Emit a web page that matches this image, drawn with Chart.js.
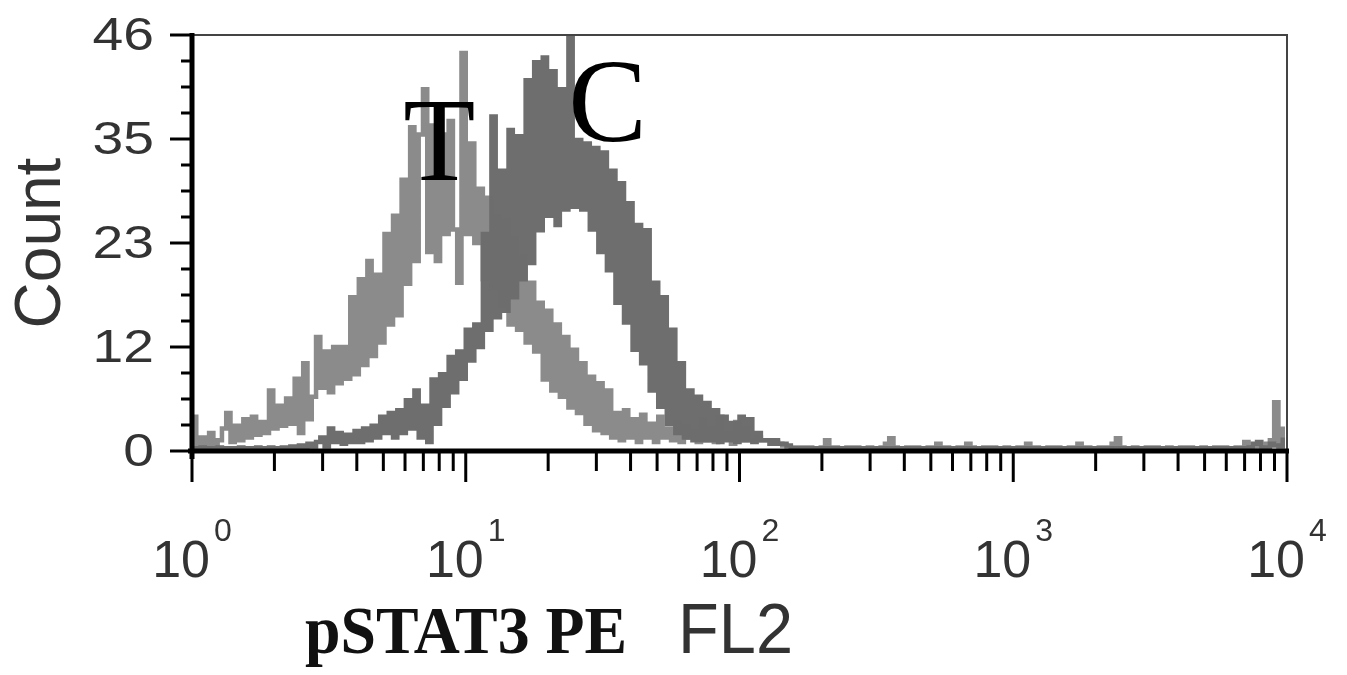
<!DOCTYPE html>
<html>
<head>
<meta charset="utf-8">
<script src="https://cdn.jsdelivr.net/npm/chart.js@4.4.1/dist/chart.umd.min.js"></script>
<style>
  html, body { margin: 0; padding: 0; background: #fff; }
  #wrap { width: 1347px; height: 675px; }
</style>
</head>
<body>
<div id="wrap"><canvas id="histChart" width="1347" height="675"></canvas></div>
<script>
// FL2 histogram: 256 log channels over 4 decades
const CHANNELS_PER_DECADE = 64;

// treated sample, counts per channel
const countT = [
  3.8, 0.5, 1.5, 0.3, 2, 0.8, 1.2, 2.5, 4.2, 1,
  2.8, 1.2, 3.5, 1.5, 3.8, 1.8, 3.2, 2, 6.7, 2.5,
  5, 2.8, 5.8, 3, 8, 2, 9.7, 3.5, 6, 12.6,
  7, 11, 6.5, 11.5, 7.5, 11.5, 8, 17, 8.5, 19,
  9.5, 21, 10.5, 19.5, 12, 24, 14, 26, 15, 30,
  18.5, 35.8, 21, 35, 40, 22, 36, 21, 35, 24,
  36.5, 24.5, 18.6, 44, 24, 34, 23, 29, 19, 28,
  18, 26, 16, 25.5, 14, 23.5, 13.4, 21.5, 12, 18.6,
  11, 16.4, 7.9, 15.5, 6.7, 14, 6, 12.6, 4.8, 11.2,
  4.2, 9.7, 3, 8.2, 2.3, 7.5, 2, 6.7, 1.5, 4.2,
  1.2, 4.5, 1.5, 3.5, 1, 4, 1.5, 3, 1, 3.8,
  1.5, 2.5, 1.2, 3.2, 1, 2.8, 1.5, 2.2, 1, 3.5,
  1.2, 2.5, 1, 3.8, 1.5, 2, 0.8, 3.2, 1.2, 2.5,
  1.2, 1.2, 1.5, 1.2, 1.2, 1.2, 1, 0.8, 0.6, 0.5,
  0.4, 0.3, 0.4, 0.3, 0.4, 0.3, 0.3, 0.4, 1.2, 0.3,
  0.4, 0.3, 0.3, 0.4, 0.3, 0.4, 0.3, 0.3, 0.4, 0.3,
  0.3, 0.4, 0.8, 1.4, 0.4, 0.3, 0.3, 0.4, 0.3, 0.4,
  0.3, 0.3, 0.4, 0.3, 0.8, 0.3, 0.4, 0.3, 0.3, 0.4,
  0.3, 0.8, 0.4, 0.3, 0.3, 0.4, 0.3, 0.4, 0.3, 0.3,
  0.4, 0.3, 0.3, 0.4, 0.3, 0.8, 0.3, 0.4, 0.3, 0.3,
  0.4, 0.3, 0.4, 0.3, 0.3, 0.4, 0.3, 0.8, 0.3, 0.4,
  0.3, 0.3, 0.4, 0.3, 0.4, 0.8, 1.4, 0.4, 0.3, 0.3,
  0.4, 0.3, 0.3, 0.4, 0.3, 0.4, 0.3, 0.3, 0.4, 0.3,
  0.3, 0.4, 0.3, 0.4, 0.3, 0.3, 0.4, 0.3, 0.3, 0.4,
  0.3, 0.4, 0.3, 0.3, 0.4, 0.3, 1, 0.4, 0.3, 0.4,
  0.3, 0.8, 1.2, 5.4, 0.8, 2.7
];

// control sample, counts per channel
const countC = [
  0.3, 0.2, 0.4, 0.3, 0.2, 0.3, 0.4, 0.3, 0.2, 0.3,
  0.3, 0.4, 0.2, 0.3, 0.3, 0.4, 0.3, 0.2, 0.4, 0.3,
  0.3, 0.4, 0.3, 0.5, 0.3, 0.6, 0.4, 0.8, 0.5, 1,
  1.5, 0.5, 2.5, 1, 2, 0.8, 1.8, 1, 2.2, 1,
  2.5, 1.2, 2.8, 1.5, 3.8, 2, 4.2, 1.5, 4.5, 2,
  5.6, 2.5, 6.7, 1.5, 5, 1, 7.9, 3, 8.5, 5,
  10.4, 6.5, 11, 8, 13.4, 10, 14, 11.5, 24, 13.4,
  37, 14.8, 31, 15.5, 35.5, 17, 34.8, 19, 41, 20.8,
  43, 24.4, 43.5, 26, 42, 25, 40, 26.7, 46, 27,
  34.4, 26.7, 34, 24.5, 33.5, 22, 33, 20, 31, 16.4,
  29.6, 14.2, 27.4, 11.2, 25, 9.7, 24.4, 6.7, 18.6, 4.9,
  17, 3, 13.4, 2, 9.7, 1.5, 6.7, 1.2, 6, 1.2,
  5.3, 1.2, 4.5, 1, 3.8, 1.2, 3.1, 1, 3.8, 1.2,
  3.5, 1, 2, 1.2, 1.2, 0.8, 1.2, 0.8, 0.8, 0.6,
  0.3, 0.2, 0.3, 0.2, 0.3, 0.2, 0.3, 0.3, 0.2, 0.3,
  0.2, 0.3, 0.2, 0.3, 0.2, 0.3, 0.3, 0.2, 0.3, 0.2,
  0.3, 0.2, 0.3, 0.3, 0.2, 0.3, 0.2, 0.3, 0.2, 0.3,
  0.2, 0.3, 0.3, 0.2, 0.3, 0.2, 0.3, 0.2, 0.3, 0.3,
  0.2, 0.3, 0.2, 0.3, 0.2, 0.3, 0.2, 0.3, 0.3, 0.2,
  0.3, 0.2, 0.3, 0.2, 0.3, 0.2, 0.3, 0.2, 0.3, 0.3,
  0.2, 0.3, 0.2, 0.3, 0.2, 0.3, 0.2, 0.3, 0.3, 0.2,
  0.3, 0.2, 0.3, 0.3, 0.2, 0.3, 0.2, 0.3, 0.2, 0.3,
  0.2, 0.3, 0.3, 0.2, 0.3, 0.2, 0.3, 0.2, 0.3, 0.3,
  0.2, 0.3, 0.2, 0.3, 0.2, 0.3, 0.2, 0.3, 0.3, 0.2,
  0.3, 0.2, 0.3, 0.3, 0.2, 0.3, 0.2, 0.4, 0.8, 1,
  0.4, 0.3, 0.8, 0.6, 0.5, 1.5
];

const yTickValues = [0, 11.5, 23, 34.5, 46];
const yTickLabels = ['0', '12', '23', '35', '46'];
const xDecades = [0, 1, 2, 3, 4];

// peak markers, placed in data space
const peakLabels = [
  { text: 'T', fl: 8, count: 30 },
  { text: 'C', fl: 33, count: 34.3 }
];

const toPoints = counts => counts.map((n, ch) => ({ x: Math.pow(10, ch / CHANNELS_PER_DECADE), y: n }));

const SANS = '"Liberation Sans", Arial, sans-serif';
const SERIF = '"Liberation Serif", "Times New Roman", serif';

// draws text squeezed or widened to a given width
function fitText(ctx, text, left, baseline, width) {
  const sx = width / ctx.measureText(text).width;
  ctx.save();
  ctx.translate(left, baseline);
  ctx.scale(sx, 1);
  ctx.fillText(text, 0, 0);
  ctx.restore();
}

const flowAxes = {
  id: 'flowAxes',
  afterDatasetsDraw(chart) {
    const { ctx, chartArea: a, scales: { x, y } } = chart;
    ctx.save();

    // thin frame on top and right
    ctx.strokeStyle = '#444';
    ctx.lineWidth = 2;
    ctx.beginPath();
    ctx.moveTo(a.left, a.top);
    ctx.lineTo(a.right, a.top);
    ctx.lineTo(a.right, a.bottom);
    ctx.stroke();

    // heavy axes
    ctx.strokeStyle = '#000';
    ctx.lineWidth = 5;
    ctx.beginPath();
    ctx.moveTo(a.left, a.top - 2);
    ctx.lineTo(a.left, a.bottom + 8);
    ctx.moveTo(a.left - 4, a.bottom);
    ctx.lineTo(a.right + 2, a.bottom);
    ctx.stroke();

    // y ticks: 4 minor steps between labelled ones
    ctx.lineWidth = 3;
    const yMax = yTickValues[yTickValues.length - 1];
    const yStep = yMax / 16;
    for (let i = 0; i <= 16; i++) {
      const py = y.getPixelForValue(i * yStep);
      const len = i % 4 === 0 ? 22 : 11;
      ctx.beginPath();
      ctx.moveTo(a.left - len, py);
      ctx.lineTo(a.left, py);
      ctx.stroke();
    }

    // x ticks: decades long, 2..9 short
    for (let d = 0; d < xDecades.length; d++) {
      for (let k = 1; k <= 9; k++) {
        if (d === xDecades.length - 1 && k > 1) break;
        const px = x.getPixelForValue(k * Math.pow(10, xDecades[d]));
        const len = k === 1 ? 31 : 20;
        ctx.beginPath();
        ctx.moveTo(px, a.bottom);
        ctx.lineTo(px, a.bottom + len);
        ctx.stroke();
      }
    }

    // y labels, a little wide
    ctx.fillStyle = '#333';
    ctx.font = '46px ' + SANS;
    ctx.textAlign = 'left';
    ctx.textBaseline = 'middle';
    yTickValues.forEach((v, i) => {
      const w = ctx.measureText(yTickLabels[i]).width * 1.2;
      fitText(ctx, yTickLabels[i], a.left - 38 - w, y.getPixelForValue(v) + 2, w);
    });

    // x labels as 10 with a raised exponent
    ctx.textBaseline = 'alphabetic';
    xDecades.forEach(d => {
      const px = x.getPixelForValue(Math.pow(10, d));
      ctx.font = '52px ' + SANS;
      const wBase = ctx.measureText('10').width;
      ctx.font = '32px ' + SANS;
      const wExp = ctx.measureText(String(d)).width;
      const left = px - (wBase + 4 + wExp) / 2;
      ctx.font = '52px ' + SANS;
      ctx.fillText('10', left, a.bottom + 126);
      ctx.font = '32px ' + SANS;
      ctx.fillText(String(d), left + wBase + 4, a.bottom + 90);
    });

    // x title: marker name in bold serif, channel in sans
    ctx.font = 'bold 68px ' + SERIF;
    ctx.fillStyle = '#111';
    fitText(ctx, 'pSTAT3 PE', 305, 653, 322);
    ctx.font = '70px ' + SANS;
    ctx.fillStyle = '#333';
    fitText(ctx, 'FL2', 678, 653, 115);

    // peak letters
    ctx.fillStyle = '#000';
    ctx.font = '118px ' + SERIF;
    ctx.textAlign = 'center';
    peakLabels.forEach(p => {
      ctx.fillText(p.text, x.getPixelForValue(p.fl), y.getPixelForValue(p.count));
    });

    ctx.restore();
  }
};

new Chart(document.getElementById('histChart'), {
  type: 'line',
  data: {
    datasets: [
      {
        label: 'T',
        data: toPoints(countT),
        stepped: true,
        borderColor: 'rgba(110,110,110,0.8)',
        borderWidth: 4.5,
        borderJoinStyle: 'miter',
        pointRadius: 0,
        fill: false
      },
      {
        label: 'C',
        data: toPoints(countC),
        stepped: true,
        borderColor: 'rgba(85,85,85,0.85)',
        borderWidth: 4.5,
        borderJoinStyle: 'miter',
        pointRadius: 0,
        fill: false
      }
    ]
  },
  options: {
    responsive: false,
    animation: false,
    layout: { padding: { top: 35, right: 60, left: 0, bottom: 0 } },
    plugins: {
      legend: { display: false },
      tooltip: { enabled: false }
    },
    scales: {
      x: {
        type: 'logarithmic',
        min: 1,
        max: 10000,
        ticks: { display: false },
        grid: { display: false },
        border: { display: false },
        afterFit: s => { s.height = 224; }
      },
      y: {
        min: 0,
        max: 46,
        ticks: { display: false },
        grid: { display: false },
        border: { display: false },
        title: {
          display: true,
          text: 'Count',
          color: '#333',
          font: { size: 64, family: SANS },
          padding: { top: 4, bottom: 0 }
        },
        afterFit: s => { s.width = 192; }
      }
    }
  },
  plugins: [flowAxes]
});
</script>
</body>
</html>
